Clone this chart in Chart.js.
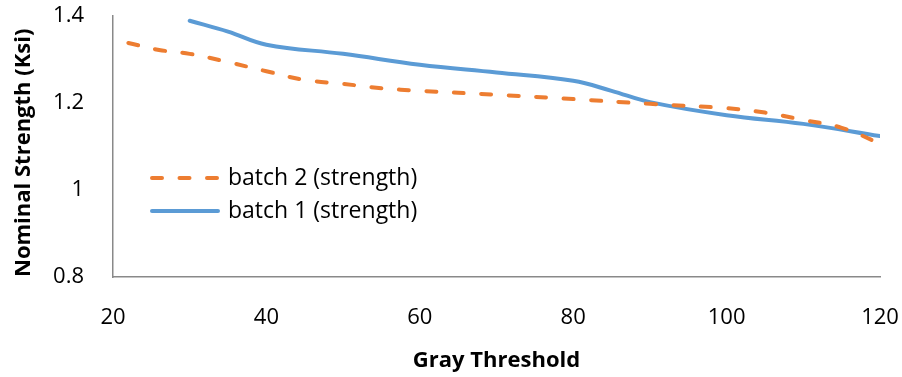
<!DOCTYPE html>
<html>
<head>
<meta charset="utf-8">
<script src="https://cdn.jsdelivr.net/npm/chart.js@4"></script>
<style>
  html, body { margin: 0; padding: 0; background: #fff; }
  #wrap { width: 902px; height: 377px; }
</style>
</head>
<body>
<div id="wrap"><canvas id="strengthChart" width="902" height="377"></canvas></div>
<script>
// Gray threshold vs nominal strength
const batch2X = [22, 26, 30, 35, 40, 45, 50, 55, 60, 70, 80, 90, 100, 105, 110, 115, 120];
const batch2Y = [1.338, 1.322, 1.313, 1.294, 1.273, 1.253, 1.244, 1.234, 1.228, 1.219, 1.209, 1.198, 1.188, 1.178, 1.161, 1.143, 1.107];

const batch1X = [30, 35, 40, 50, 60, 70, 80, 85, 90, 100, 110, 120];
const batch1Y = [1.389, 1.364, 1.334, 1.313, 1.288, 1.270, 1.251, 1.228, 1.202, 1.172, 1.152, 1.124];

const xTicks = [20, 40, 60, 80, 100, 120];
const yTicks = [0.8, 1, 1.2, 1.4];

const FONT = '"Open Sans", Lato, sans-serif';
const ORANGE = '#ED7D31';
const BLUE = '#5B9BD5';
const DASH = [10, 17.5];

function toPoints(xs, ys) {
  return xs.map((x, i) => ({ x: x, y: ys[i] }));
}

// Legend drawn inside the plot area, like the original
const insideLegend = {
  id: 'insideLegend',
  afterDatasetsDraw(chart) {
    const ctx = chart.ctx;
    const area = chart.chartArea;
    const x0 = area.left + 37;
    const rows = [area.top + 162, area.top + 195];
    chart.data.datasets.forEach((ds, i) => {
      const y = rows[i];
      ctx.save();
      ctx.strokeStyle = ds.borderColor;
      ctx.lineWidth = 4;
      ctx.lineCap = 'round';
      ctx.setLineDash(ds.borderDash || []);
      ctx.beginPath();
      ctx.moveTo(x0 + 2, y);
      ctx.lineTo(x0 + 68, y);
      ctx.stroke();
      ctx.setLineDash([]);
      ctx.fillStyle = '#000';
      ctx.font = '23px ' + FONT;
      ctx.textBaseline = 'middle';
      ctx.fillText(ds.label, x0 + 78, y);
      ctx.restore();
    });
  }
};

document.addEventListener('DOMContentLoaded', function() {
  const ctx = document.getElementById('strengthChart');

  new Chart(ctx, {
    type: 'line',
    data: {
      datasets: [{
        label: 'batch 2 (strength)',
        data: toPoints(batch2X, batch2Y),
        borderColor: ORANGE,
        borderWidth: 4,
        borderDash: DASH,
        borderCapStyle: 'round',
        pointRadius: 0,
        tension: 0.4
      }, {
        label: 'batch 1 (strength)',
        data: toPoints(batch1X, batch1Y),
        borderColor: BLUE,
        borderWidth: 4,
        borderCapStyle: 'round',
        pointRadius: 0,
        tension: 0.4
      }]
    },
    options: {
      responsive: false,
      animation: false,
      layout: { padding: { top: 16, right: 22, bottom: 3, left: 0 } },
      plugins: {
        legend: { display: false },
        tooltip: { enabled: false }
      },
      scales: {
        x: {
          type: 'linear',
          min: 20,
          max: 120,
          afterBuildTicks: (axis) => { axis.ticks = xTicks.map(v => ({ value: v })); },
          afterFit: (axis) => {
            axis.height = 97;
            axis.paddingLeft = 0;
            axis.paddingRight = 0;
          },
          grid: { display: false },
          border: { display: true, color: '#898989', width: 1.5 },
          ticks: { color: '#000', font: { family: FONT, size: 22 }, padding: 20, maxRotation: 0 },
          title: {
            display: true,
            text: 'Gray Threshold',
            color: '#000',
            font: { family: FONT, size: 22, weight: 'bold' },
            padding: { top: 0, bottom: 0 }
          }
        },
        y: {
          min: 0.8,
          max: 1.4,
          afterBuildTicks: (axis) => { axis.ticks = yTicks.map(v => ({ value: v })); },
          afterFit: (axis) => {
            axis.width = 113;
            axis.paddingTop = 0;
            axis.paddingBottom = 0;
          },
          grid: { display: false },
          border: { display: true, color: '#898989', width: 1.5 },
          ticks: {
            color: '#000',
            font: { family: FONT, size: 22 },
            padding: 21,
            callback: (v) => String(v)
          },
          title: {
            display: true,
            text: 'Nominal Strength (Ksi)',
            align: 'start',
            color: '#000',
            font: { family: FONT, size: 22, weight: 'bold' },
            padding: { top: 11, bottom: 0 }
          }
        }
      }
    },
    plugins: [insideLegend]
  });
});
</script>
</body>
</html>
